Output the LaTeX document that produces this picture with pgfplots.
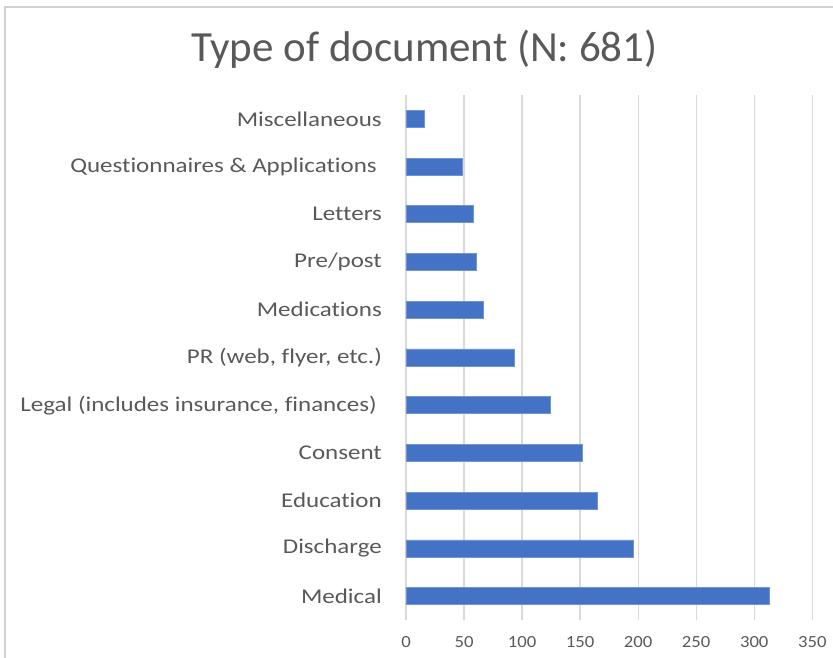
\documentclass[border=0pt]{standalone}
\usepackage{pgfplots}
\pgfplotsset{compat=1.18}
\usepackage{fontspec}
\setmainfont{Carlito}
\newfontfamily\lblfont[FakeStretch=1.19, Ligatures=NoCommon]{Carlito}
\newfontfamily\tickfont[FakeStretch=1.1]{Carlito}
\definecolor{barblue}{HTML}{4472C4}
\definecolor{baredge}{HTML}{6F95D6}
\definecolor{txtgray}{HTML}{595959}
\definecolor{gridgray}{HTML}{D9D9D9}
\definecolor{framegray}{HTML}{D0D0D0}
\begin{document}
\begin{tikzpicture}[x=1pt,y=1pt]
\path[use as bounding box] (0,0) rectangle (833,658);
% chart frame (only top and left edge are visible in the crop)
\draw[framegray, line width=1.5pt] (5,-20) -- (5,651) -- (860,651);
\node[anchor=base, inner sep=0pt, text=txtgray,
      font=\fontsize{43}{50}\selectfont] at (424.5,596.3) {Type of document (N: 681)};
\begin{axis}[
    at={(406pt,38pt)}, anchor=south west,
    scale only axis, width=406.3pt, height=525pt,
    xbar, bar width=17pt,
    xmin=0, xmax=350, ymin=-0.5, ymax=10.5,
    xtick={0,50,...,350},
    ytick={0,...,10},
    yticklabels={Medical, Discharge, Education, Consent,
        {Legal (includes insurance, finances)\hspace*{5pt}},
        {PR (web, flyer, etc.)}, Medications, Pre/post, Letters,
        {Questionnaires \& Applications\hspace*{5pt}}, Miscellaneous},
    xmajorgrids,
    major grid style={gridgray, line width=1.3pt},
    axis line style={draw=none},
    major tick length=0pt,
    /pgf/number format/assume math mode=true,
    yticklabel style={inner sep=0pt, xshift=-24pt, text=txtgray,
        font=\lblfont\fontsize{21}{25}\selectfont},
    xticklabel style={inner sep=0pt, yshift=-16pt, text=txtgray,
        font=\tickfont\fontsize{17}{20}\selectfont},
]
\addplot[fill=barblue, draw=baredge, line width=0.8pt] coordinates {
    (313,0) (196,1) (165,2) (152,3) (124,4) (93,5)
    (67,6) (61,7) (58,8) (49,9) (16,10)};
\end{axis}
\end{tikzpicture}
\end{document}
